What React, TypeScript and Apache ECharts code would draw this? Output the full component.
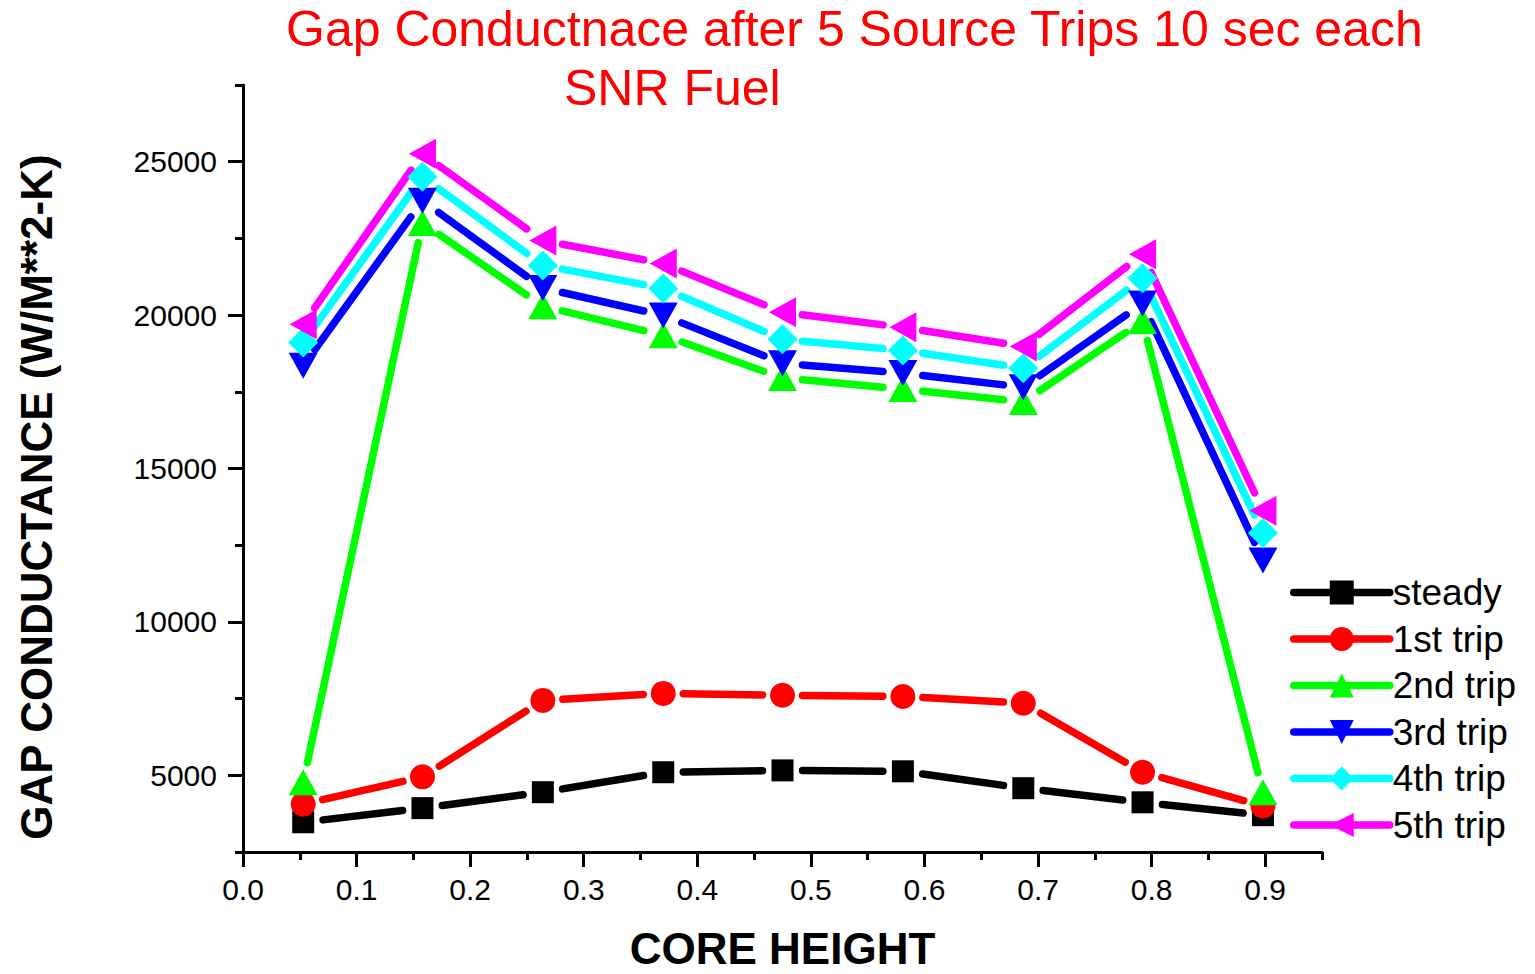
import React, { useEffect, useRef } from "react";
import * as echarts from "echarts";

// Axial positions (fraction of core height) and gap conductance (W/m²·K)
const coreHeight = [0.053, 0.158, 0.264, 0.37, 0.475, 0.581, 0.687, 0.792, 0.898];
const steady = [3470, 3930, 4450, 5100, 5160, 5130, 4580, 4120, 3700];
const trip1 = [4060, 4950, 7440, 7670, 7610, 7570, 7350, 5100, 4000];
const trip2 = [4770, 23000, 20290, 19340, 17950, 17590, 17170, 19800, 4450];
const trip3 = [18350, 23730, 20880, 19990, 18430, 18110, 17650, 20380, 12000];
const trip4 = [19110, 24510, 21620, 20870, 19210, 18850, 18270, 21200, 12900];
const trip5 = [19700, 25260, 22430, 21680, 20090, 19600, 18980, 21980, 13620];

const seriesNames = ["steady", "1st trip", "2nd trip", "3rd trip", "4th trip", "5th trip"];
const seriesValues = [steady, trip1, trip2, trip3, trip4, trip5];
const seriesColors = ["#000000", "#ff0000", "#00ff00", "#0000ff", "#00ffff", "#ff00ff"];
const seriesSymbols = ["rect", "circle", "triangle", "triangle", "diamond", "triangle"];
const symbolRotations = [0, 0, 0, 180, 0, 90];
const symbolSizes: any[] = [22, 25, [29, 26], [29, 26], [30, 30], [30, 27]];

const xMajorTicks = [0, 0.1, 0.2, 0.3, 0.4, 0.5, 0.6, 0.7, 0.8, 0.9];
const xMinorTicks = [0.05, 0.15, 0.25, 0.35, 0.45, 0.55, 0.65, 0.75, 0.85, 0.95];
const yMajorTicks = [5000, 10000, 15000, 20000, 25000];
const yMinorTicks = [2500, 7500, 12500, 17500, 22500, 27500];

const FONT = "'Liberation Sans', Arial, Helvetica, sans-serif";
const LINE_W = 7.5;
const GAP = 20; // px kept clear around every marker
const W = 1535;
const H = 974;

export default function App() {
  const ref = useRef<HTMLDivElement>(null);

  useEffect(() => {
    if (!ref.current) return;
    const chart = echarts.init(ref.current, null, { renderer: "svg", width: W, height: H });

    const series: any[] = [];
    seriesNames.forEach((name, i) => {
      const vals = seriesValues[i];
      const color = seriesColors[i];
      const segments = coreHeight.slice(1).map((x, k) => [coreHeight[k], vals[k], x, vals[k + 1]]);
      // connecting segments, shortened so they stop short of the markers
      series.push({
        type: "custom",
        name: name + " segments",
        xAxisIndex: 0,
        yAxisIndex: 0,
        data: segments,
        encode: { x: [0, 2], y: [1, 3] },
        silent: true,
        renderItem: (_params: any, api: any) => {
          const a = api.coord([api.value(0), api.value(1)]);
          const b = api.coord([api.value(2), api.value(3)]);
          const dx = b[0] - a[0];
          const dy = b[1] - a[1];
          const len = Math.hypot(dx, dy);
          if (len <= 2 * GAP) return null;
          const ux = dx / len;
          const uy = dy / len;
          return {
            type: "line",
            shape: {
              x1: a[0] + ux * GAP,
              y1: a[1] + uy * GAP,
              x2: b[0] - ux * GAP,
              y2: b[1] - uy * GAP,
            },
            style: { stroke: color, lineWidth: LINE_W, lineCap: "round" },
          };
        },
      });
      // markers (and legend entry)
      series.push({
        type: "line",
        name,
        xAxisIndex: 0,
        yAxisIndex: 0,
        data: coreHeight.map((x, k) => [x, vals[k]]),
        symbol: seriesSymbols[i],
        symbolRotate: symbolRotations[i],
        symbolSize: symbolSizes[i],
        showAllSymbol: true,
        itemStyle: { color, borderWidth: 0 },
        lineStyle: { color, width: LINE_W, opacity: 0 },
        emphasis: { disabled: true },
      });
    });

    const tickFont = { fontFamily: FONT, fontSize: 30, color: "#000000" };

    chart.setOption({
      animation: false,
      backgroundColor: "#ffffff",
      title: [
        {
          text: "Gap Conductnace after 5 Source Trips 10 sec each",
          left: 286,
          top: 4,
          padding: 0,
          textStyle: { color: "#ff0000", fontFamily: FONT, fontWeight: "normal", fontSize: 50 },
        },
        {
          text: "SNR Fuel",
          left: 564,
          top: 63,
          padding: 0,
          textStyle: { color: "#ff0000", fontFamily: FONT, fontWeight: "normal", fontSize: 50 },
        },
      ],
      grid: {
        left: 243,
        right: 213,
        top: 85,
        bottom: 122,
        containLabel: false,
        outerBoundsMode: "none",
      },
      legend: {
        data: seriesNames,
        orient: "vertical",
        left: 1290,
        top: 574,
        padding: 0,
        itemWidth: 96,
        itemHeight: 30,
        itemGap: 9.5,
        selectedMode: false,
        textStyle: { fontFamily: FONT, fontSize: 37, color: "#000000", padding: [0, 0, 0, -2] },
        lineStyle: { width: LINE_W, opacity: 1, cap: "round" },
        itemStyle: { borderWidth: 0 },
      },
      xAxis: [
        {
          type: "value",
          position: "bottom",
          min: 0,
          max: 0.95,
          name: "CORE HEIGHT",
          nameLocation: "middle",
          nameGap: 74,
          nameTextStyle: {
            fontFamily: FONT,
            fontWeight: "bold",
            fontSize: 44,
            lineHeight: 44,
            color: "#000000",
          },
          splitLine: { show: false },
          axisLine: { onZero: false, lineStyle: { color: "#000000", width: 3 } },
          axisTick: { customValues: xMajorTicks, length: 15, lineStyle: { color: "#000000", width: 3 } },
          axisLabel: {
            ...tickFont,
            customValues: xMajorTicks,
            margin: 22,
            formatter: (v: number) => v.toFixed(1),
          },
        },
        {
          type: "value",
          position: "bottom",
          min: 0,
          max: 0.95,
          splitLine: { show: false },
          axisLine: { show: false, onZero: false },
          axisTick: { customValues: xMinorTicks, length: 8, lineStyle: { color: "#000000", width: 3 } },
          axisLabel: { show: false },
        },
      ],
      yAxis: [
        {
          type: "value",
          position: "left",
          min: 2500,
          max: 27500,
          splitLine: { show: false },
          axisLine: { show: true, onZero: false, lineStyle: { color: "#000000", width: 3 } },
          axisTick: { show: true, customValues: yMajorTicks, length: 15, lineStyle: { color: "#000000", width: 3 } },
          axisLabel: {
            ...tickFont,
            customValues: yMajorTicks,
            margin: 26,
            formatter: (v: number) => String(v),
          },
        },
        {
          type: "value",
          position: "left",
          min: 2500,
          max: 27500,
          splitLine: { show: false },
          axisLine: { show: false, onZero: false },
          axisTick: { show: true, customValues: yMinorTicks, length: 8, lineStyle: { color: "#000000", width: 3 } },
          axisLabel: { show: false },
        },
      ],
      graphic: [
        {
          type: "text",
          x: 36,
          y: 497,
          rotation: Math.PI / 2,
          style: {
            text: "GAP CONDUCTANCE (W/M**2-K)",
            font: `bold 44px ${FONT}`,
            fill: "#000000",
            textAlign: "center",
            textVerticalAlign: "middle",
          },
        },
      ],
      series,
    });

    return () => chart.dispose();
  }, []);

  return (
    <div
      ref={ref}
      style={{ position: "absolute", left: 0, top: 0, width: W, height: H, background: "#ffffff" }}
    />
  );
}
